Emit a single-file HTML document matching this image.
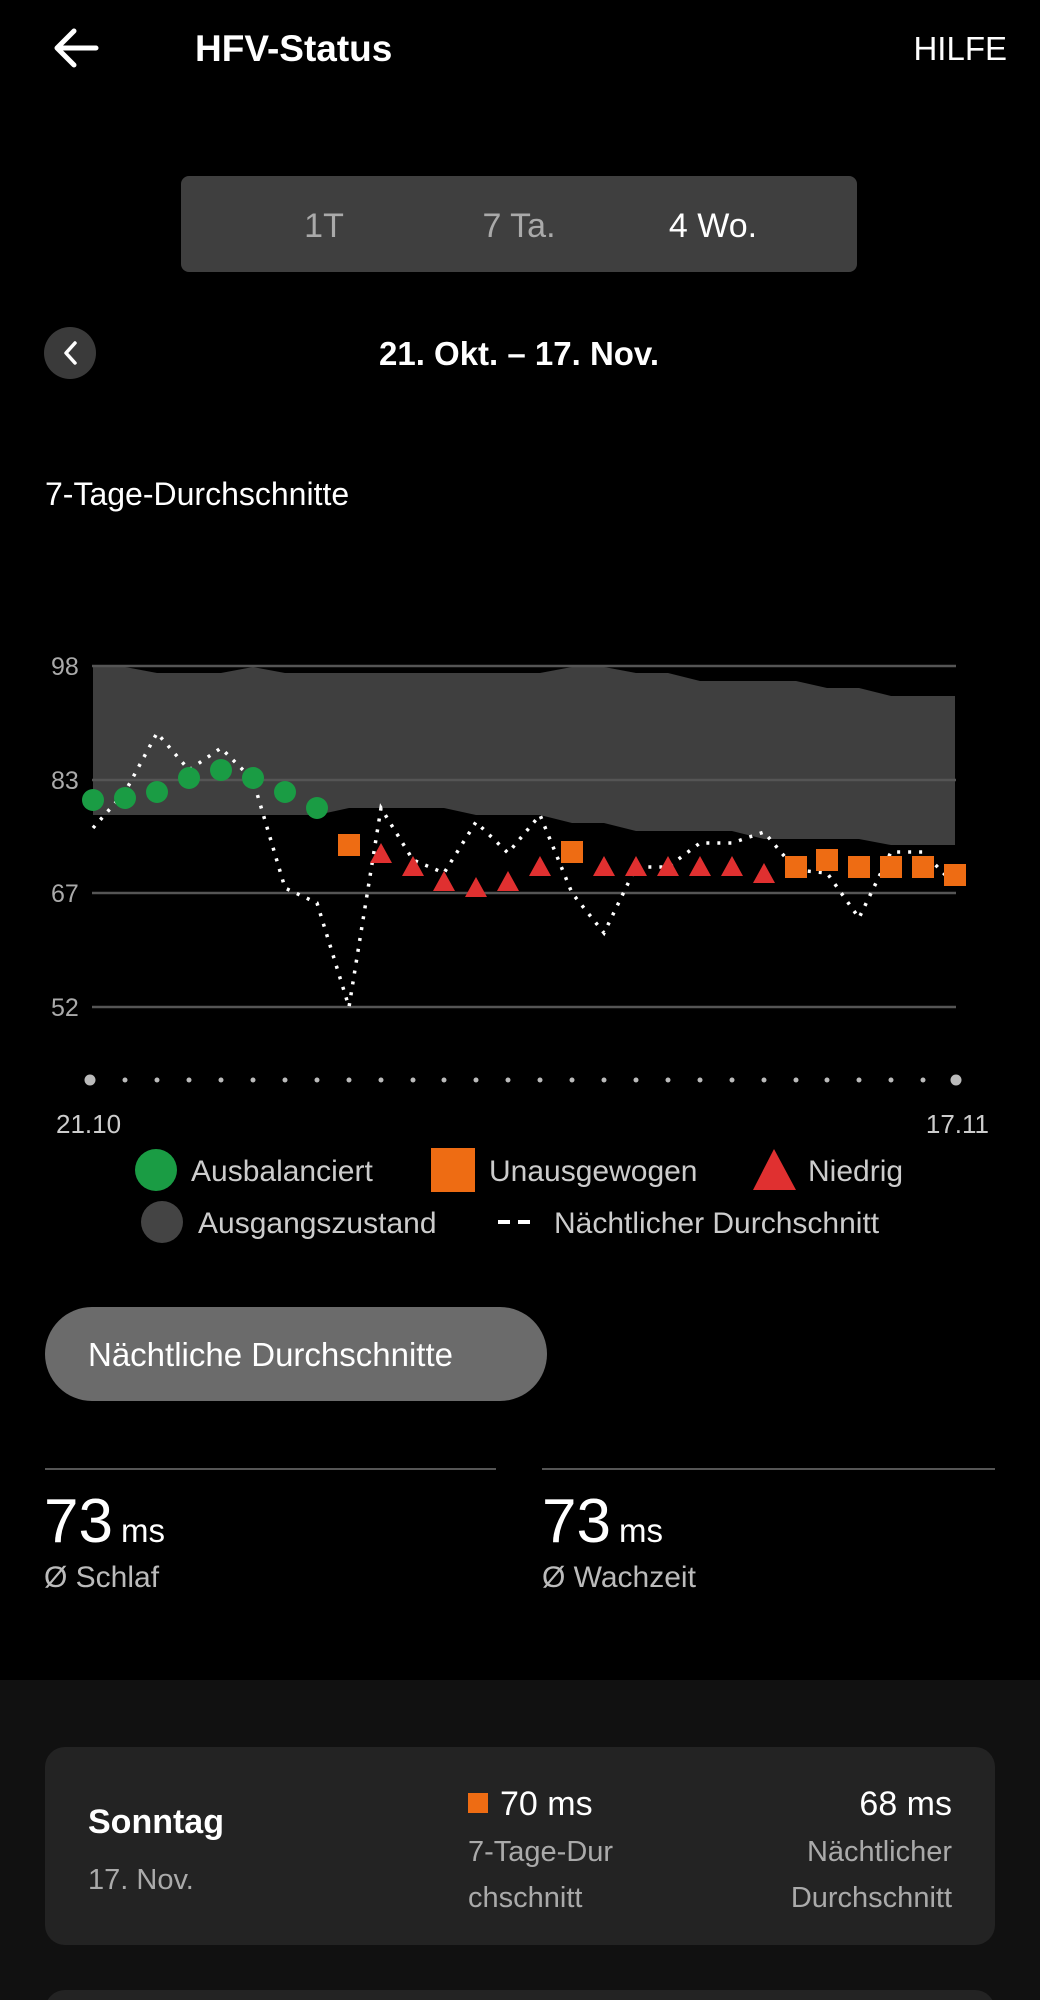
<!DOCTYPE html>
<html><head><meta charset="utf-8"><style>
html,body{margin:0;padding:0;background:#000;width:1040px;height:2000px;overflow:hidden}
svg{display:block;font-family:"Liberation Sans",sans-serif}
</style></head><body>
<svg width="1040" height="2000" viewBox="0 0 1040 2000" xmlns="http://www.w3.org/2000/svg">
<rect width="1040" height="2000" fill="#000"/>
<!-- header -->
<path d="M96 48 H58 M74 31 L57 48 L74 65" stroke="#fff" stroke-width="5" fill="none" stroke-linecap="round" stroke-linejoin="round"/>
<text x="195" y="61" fill="#fff" font-size="37" font-weight="bold">HFV-Status</text>
<text x="1007" y="60" fill="#fff" font-size="33" text-anchor="end">HILFE</text>
<!-- segmented -->
<rect x="181" y="176" width="676" height="96" rx="8" fill="#3f3f3f"/>
<text x="324" y="237" fill="#aaa" font-size="34" text-anchor="middle">1T</text>
<text x="519" y="237" fill="#aaa" font-size="34" text-anchor="middle">7 Ta.</text>
<text x="713" y="237" fill="#fff" font-size="34" text-anchor="middle">4 Wo.</text>
<!-- date nav -->
<circle cx="70" cy="353" r="26" fill="#3a3a3a"/>
<path d="M75 343 L66 353 L75 363" stroke="#fff" stroke-width="3.5" fill="none" stroke-linecap="round" stroke-linejoin="round"/>
<text x="519" y="365" fill="#fff" font-size="33" font-weight="bold" text-anchor="middle">21. Okt. – 17. Nov.</text>
<text x="45" y="505" fill="#fff" font-size="32">7-Tage-Durchschnitte</text>
<!-- band -->
<polygon fill="#3f3f3f" points="93,667 125,667 157,673 189,673 221,673 253,667 285,673 317,673 349,673 381,673 413,673 444,673 476,673 508,673 540,673 572,667 604,667 636,673 668,673 700,681 732,681 764,681 796,681 827,688 859,688 891,696 923,696 955,696 955,845 923,845 891,845 859,839 827,839 796,839 764,839 732,831 700,831 668,831 636,831 604,823 572,823 540,815 508,815 476,815 444,808 413,808 381,808 349,808 317,815 285,815 253,815 221,815 189,815 157,815 125,815 93,815"/>
<!-- grid -->
<g stroke="#555" stroke-width="2.5">
<line x1="92" y1="666" x2="956" y2="666"/>
<line x1="92" y1="780" x2="956" y2="780"/>
<line x1="92" y1="893" x2="956" y2="893"/>
<line x1="92" y1="1007" x2="956" y2="1007"/>
</g>
<g fill="#aaa" font-size="25">
<text x="51" y="675">98</text><text x="51" y="789">83</text><text x="51" y="902">67</text><text x="51" y="1016">52</text>
</g>
<!-- nightly line -->
<polyline fill="none" stroke="#fff" stroke-width="3.5" stroke-dasharray="3,8" points="93,828 125,792 157,733 189,770 221,748 253,780 285,888 317,903 349,1007 381,808 413,860 444,873 476,822 508,853 540,815 572,893 604,933 636,867 668,867 700,843 732,843 764,832 796,870 827,873 859,918 891,852 923,852 955,885"/>
<!-- green -->
<g fill="#1a9c44">
<ellipse cx="93" cy="800" rx="11" ry="11"/><ellipse cx="125" cy="798" rx="11" ry="11"/><ellipse cx="157" cy="792" rx="11" ry="11"/><ellipse cx="189" cy="778" rx="11" ry="11"/><ellipse cx="221" cy="770" rx="11" ry="11"/><ellipse cx="253" cy="778" rx="11" ry="11"/><ellipse cx="285" cy="792" rx="11" ry="11"/><ellipse cx="317" cy="808" rx="11" ry="11"/>
</g>
<!-- orange -->
<g fill="#ee6c13">
<rect x="338" y="834" width="22" height="22"/><rect x="561" y="841" width="22" height="22"/><rect x="785" y="856" width="22" height="22"/><rect x="816" y="849" width="22" height="22"/><rect x="848" y="856" width="22" height="22"/><rect x="880" y="856" width="22" height="22"/><rect x="912" y="856" width="22" height="22"/><rect x="944" y="864" width="22" height="22"/>
</g>
<!-- red -->
<g fill="#e03030">
<polygon points="381,843 370,863 392,863"/><polygon points="413,856 402,876 424,876"/><polygon points="444,871 433,891 455,891"/><polygon points="476,877 465,897 487,897"/><polygon points="508,871 497,891 519,891"/><polygon points="540,856 529,876 551,876"/><polygon points="604,856 593,876 615,876"/><polygon points="636,856 625,876 647,876"/><polygon points="668,856 657,876 679,876"/><polygon points="700,856 689,876 711,876"/><polygon points="732,856 721,876 743,876"/><polygon points="764,863 753,883 775,883"/>
</g>
<!-- dot row -->
<g fill="#bbb">
<circle cx="90" cy="1080" r="5.5"/><circle cx="956" cy="1080" r="5.5"/>
<circle cx="125" cy="1080" r="2.5"/><circle cx="157" cy="1080" r="2.5"/><circle cx="189" cy="1080" r="2.5"/><circle cx="221" cy="1080" r="2.5"/><circle cx="253" cy="1080" r="2.5"/><circle cx="285" cy="1080" r="2.5"/><circle cx="317" cy="1080" r="2.5"/><circle cx="349" cy="1080" r="2.5"/><circle cx="381" cy="1080" r="2.5"/><circle cx="413" cy="1080" r="2.5"/><circle cx="444" cy="1080" r="2.5"/><circle cx="476" cy="1080" r="2.5"/><circle cx="508" cy="1080" r="2.5"/><circle cx="540" cy="1080" r="2.5"/><circle cx="572" cy="1080" r="2.5"/><circle cx="604" cy="1080" r="2.5"/><circle cx="636" cy="1080" r="2.5"/><circle cx="668" cy="1080" r="2.5"/><circle cx="700" cy="1080" r="2.5"/><circle cx="732" cy="1080" r="2.5"/><circle cx="764" cy="1080" r="2.5"/><circle cx="796" cy="1080" r="2.5"/><circle cx="827" cy="1080" r="2.5"/><circle cx="859" cy="1080" r="2.5"/><circle cx="891" cy="1080" r="2.5"/><circle cx="923" cy="1080" r="2.5"/>
</g>
<text x="56" y="1133" fill="#ccc" font-size="26">21.10</text>
<text x="989" y="1133" fill="#ccc" font-size="26" text-anchor="end">17.11</text>
<!-- legend -->
<circle cx="156" cy="1170" r="21" fill="#1a9c44"/>
<text x="191" y="1181" fill="#ccc" font-size="30">Ausbalanciert</text>
<rect x="431" y="1148" width="44" height="44" fill="#ee6c13"/>
<text x="489" y="1181" fill="#ccc" font-size="30">Unausgewogen</text>
<polygon points="774,1149 753,1190 796,1190" fill="#e03030"/>
<text x="808" y="1181" fill="#ccc" font-size="30">Niedrig</text>
<circle cx="162" cy="1222" r="21" fill="#444"/>
<text x="198" y="1233" fill="#ccc" font-size="30">Ausgangszustand</text>
<line x1="498" y1="1222" x2="533" y2="1222" stroke="#fff" stroke-width="4" stroke-dasharray="12,8"/>
<text x="554" y="1233" fill="#ccc" font-size="30">Nächtlicher Durchschnitt</text>
<!-- button -->
<rect x="45" y="1307" width="502" height="94" rx="47" fill="#6b6b6b"/>
<text x="88" y="1366" fill="#fff" font-size="33">Nächtliche Durchschnitte</text>
<!-- stats -->
<line x1="45" y1="1469" x2="496" y2="1469" stroke="#555" stroke-width="2"/>
<line x1="542" y1="1469" x2="995" y2="1469" stroke="#555" stroke-width="2"/>
<text x="44" y="1542" fill="#fff" font-size="62">73<tspan font-size="33" dx="8">ms</tspan></text>
<text x="542" y="1542" fill="#fff" font-size="62">73<tspan font-size="33" dx="8">ms</tspan></text>
<text x="44" y="1587" fill="#bbb" font-size="30">Ø Schlaf</text>
<text x="542" y="1587" fill="#bbb" font-size="30">Ø Wachzeit</text>
<!-- bottom section -->
<rect x="0" y="1680" width="1040" height="320" fill="#111"/>
<rect x="45" y="1747" width="950" height="198" rx="20" fill="#232323"/>
<rect x="45" y="1990" width="950" height="40" rx="20" fill="#232323"/>
<text x="88" y="1833" fill="#fff" font-size="34" font-weight="bold">Sonntag</text>
<text x="88" y="1889" fill="#aaa" font-size="29">17. Nov.</text>
<rect x="468" y="1793" width="20" height="20" fill="#ee6c13"/>
<text x="500" y="1815" fill="#fff" font-size="34">70 ms</text>
<text x="468" y="1861" fill="#aaa" font-size="29">7-Tage-Dur</text>
<text x="468" y="1907" fill="#aaa" font-size="29">chschnitt</text>
<text x="952" y="1815" fill="#fff" font-size="34" text-anchor="end">68 ms</text>
<text x="952" y="1861" fill="#aaa" font-size="29" text-anchor="end">Nächtlicher</text>
<text x="952" y="1907" fill="#aaa" font-size="29" text-anchor="end">Durchschnitt</text>
</svg>
</body></html>
